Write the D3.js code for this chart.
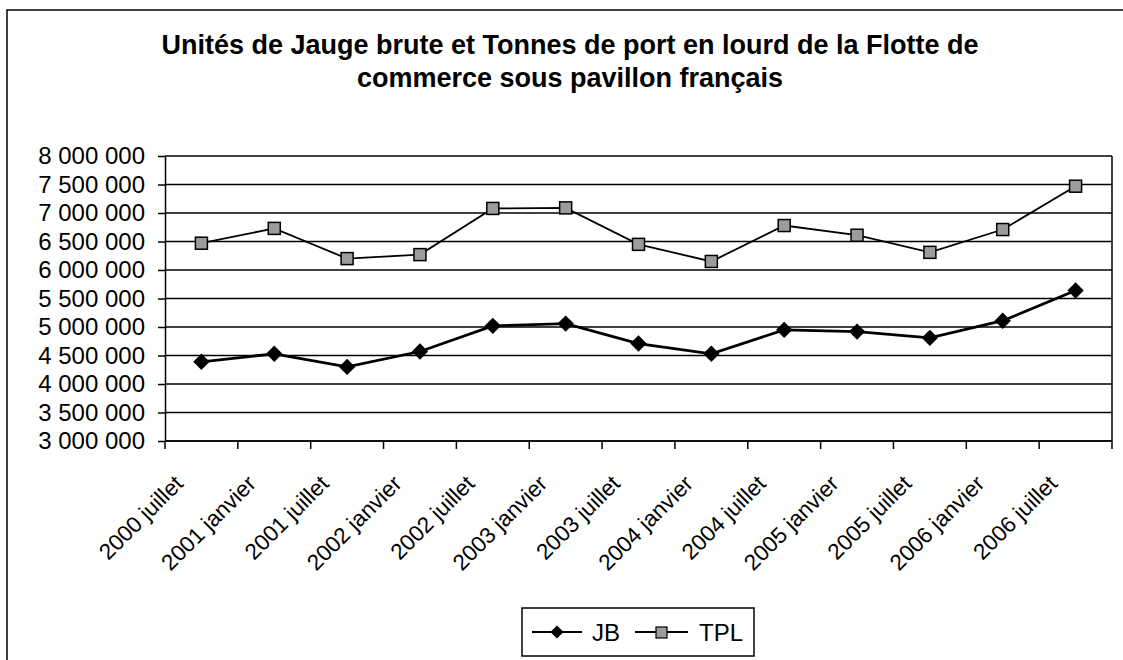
<!DOCTYPE html>
<html>
<head>
<meta charset="utf-8">
<script src="https://cdn.jsdelivr.net/npm/d3@7"></script>
<style>
  body { margin: 0; background: #fff; }
  svg { font-family: "Liberation Sans", Arial, sans-serif; }
</style>
</head>
<body>
<svg id="chart" width="1123" height="660"></svg>
<script>
// categories (semesters)
var periods = ["2000 juillet", "2001 janvier", "2001 juillet", "2002 janvier", "2002 juillet",
  "2003 janvier", "2003 juillet", "2004 janvier", "2004 juillet", "2005 janvier",
  "2005 juillet", "2006 janvier", "2006 juillet"]

// JB = unités de jauge brute
var jb = [4390000, 4530000, 4300000, 4570000, 5020000, 5060000, 4710000,
  4530000, 4950000, 4920000, 4810000, 5110000, 5640000]

// TPL = tonnes de port en lourd
var tpl = [6470000, 6730000, 6200000, 6270000, 7080000, 7090000, 6450000,
  6150000, 6780000, 6610000, 6310000, 6710000, 7470000]

var yTicks = [3000000, 3500000, 4000000, 4500000, 5000000, 5500000, 6000000, 6500000, 7000000, 7500000, 8000000]

var dimensions = {
  width: 1123,
  height: 660,
  margin: { top: 156, bottom: 219, left: 165, right: 11 }
}
var innerW = dimensions.width - dimensions.margin.left - dimensions.margin.right
var innerH = dimensions.height - dimensions.margin.top - dimensions.margin.bottom

var svg = d3.select("#chart")

// outer frame
svg.append("rect")
  .attr("x", 7).attr("y", 10)
  .attr("width", 1130).attr("height", 670)
  .attr("fill", "none").attr("stroke", "black").attr("stroke-width", 1.5)

// title
var title = svg.append("text")
  .attr("text-anchor", "middle")
  .style("font-size", "27px")
  .style("font-weight", "bold")
title.append("tspan").attr("x", 570).attr("y", 54).text("Unités de Jauge brute et Tonnes de port en lourd de la Flotte de")
title.append("tspan").attr("x", 570).attr("y", 87).text("commerce sous pavillon français")

var g = svg.append("g")
  .attr("transform", "translate(" + dimensions.margin.left + "," + dimensions.margin.top + ")")

var x = d3.scaleBand()
  .domain(periods)
  .range([0, innerW])

var y = d3.scaleLinear()
  .domain([3000000, 8000000])
  .range([innerH, 0])

var fmt = function(d) { return d3.format(",")(d).replace(/,/g, " ") }

// horizontal gridlines
g.append("g")
  .selectAll("line")
  .data(yTicks)
  .enter().append("line")
    .attr("x1", 0).attr("x2", innerW)
    .attr("y1", function(d) { return y(d) })
    .attr("y2", function(d) { return y(d) })
    .attr("stroke", "black").attr("stroke-width", 1.5)

// right border of plot
g.append("line")
  .attr("x1", innerW).attr("x2", innerW)
  .attr("y1", 0).attr("y2", innerH)
  .attr("stroke", "black").attr("stroke-width", 1.5)

// y axis
var yAxis = g.append("g")
  .call(d3.axisLeft(y).tickValues(yTicks).tickFormat(fmt).tickSize(7).tickSizeOuter(0))
yAxis.select(".domain").attr("stroke-width", 1.5)
yAxis.selectAll(".tick line").attr("stroke-width", 1.5)
yAxis.selectAll("text")
  .style("font-size", "24px")
  .style("font-family", "'Liberation Sans', Arial, sans-serif")
  .attr("fill", "black")
  .attr("x", -20)

// x axis, ticks between categories
var xAxis = g.append("g")
  .attr("transform", "translate(0," + innerH + ")")
xAxis.append("line")
  .attr("x1", 0).attr("x2", innerW)
  .attr("stroke", "black").attr("stroke-width", 1.5)
xAxis.selectAll(".tk")
  .data(d3.range(periods.length + 1))
  .enter().append("line")
    .attr("class", "tk")
    .attr("x1", function(i) { return i * x.step() })
    .attr("x2", function(i) { return i * x.step() })
    .attr("y1", 0).attr("y2", 8)
    .attr("stroke", "black").attr("stroke-width", 1.5)
xAxis.selectAll(".lbl")
  .data(periods)
  .enter().append("text")
    .attr("class", "lbl")
    .attr("text-anchor", "end")
    .style("font-size", "22.5px")
    .attr("transform", function(d) {
      return "translate(" + (x(d) + x.bandwidth() / 2 - 17) + ",44) rotate(-45)"
    })
    .text(function(d) { return d })

var line = d3.line()
  .x(function(d, i) { return x(periods[i]) + x.bandwidth() / 2 })
  .y(function(d) { return y(d) })

// TPL series
g.append("path")
  .datum(tpl)
  .attr("fill", "none").attr("stroke", "black").attr("stroke-width", 1.8)
  .attr("d", line)

g.append("g")
  .selectAll("rect")
  .data(tpl)
  .enter().append("rect")
    .attr("x", function(d, i) { return x(periods[i]) + x.bandwidth() / 2 - 6 })
    .attr("y", function(d) { return y(d) - 6 })
    .attr("width", 12).attr("height", 12)
    .attr("fill", "#9c9c9c").attr("stroke", "black").attr("stroke-width", 1.5)

// JB series
g.append("path")
  .datum(jb)
  .attr("fill", "none").attr("stroke", "black").attr("stroke-width", 2.8)
  .attr("d", line)

var diamond = d3.symbol().type(d3.symbolDiamond2).size(170)
g.append("g")
  .selectAll("path")
  .data(jb)
  .enter().append("path")
    .attr("d", diamond)
    .attr("transform", function(d, i) {
      return "translate(" + (x(periods[i]) + x.bandwidth() / 2) + "," + y(d) + ")"
    })
    .attr("fill", "black")

// legend
var legend = svg.append("g")
legend.append("rect")
  .attr("x", 522).attr("y", 608)
  .attr("width", 232).attr("height", 48)
  .attr("fill", "white").attr("stroke", "black").attr("stroke-width", 1.5)

legend.append("line")
  .attr("x1", 532).attr("x2", 582).attr("y1", 632).attr("y2", 632)
  .attr("stroke", "black").attr("stroke-width", 2)
legend.append("path")
  .attr("d", d3.symbol().type(d3.symbolDiamond2).size(110))
  .attr("transform", "translate(557,632)")
  .attr("fill", "black")
legend.append("text")
  .attr("x", 592).attr("y", 641)
  .style("font-size", "24px")
  .text("JB")

legend.append("line")
  .attr("x1", 635).attr("x2", 688).attr("y1", 632).attr("y2", 632)
  .attr("stroke", "black").attr("stroke-width", 2)
legend.append("rect")
  .attr("x", 656).attr("y", 627)
  .attr("width", 11).attr("height", 11)
  .attr("fill", "#9c9c9c").attr("stroke", "black").attr("stroke-width", 1.2)
legend.append("text")
  .attr("x", 699).attr("y", 641)
  .style("font-size", "24px")
  .text("TPL")
</script>
</body>
</html>
